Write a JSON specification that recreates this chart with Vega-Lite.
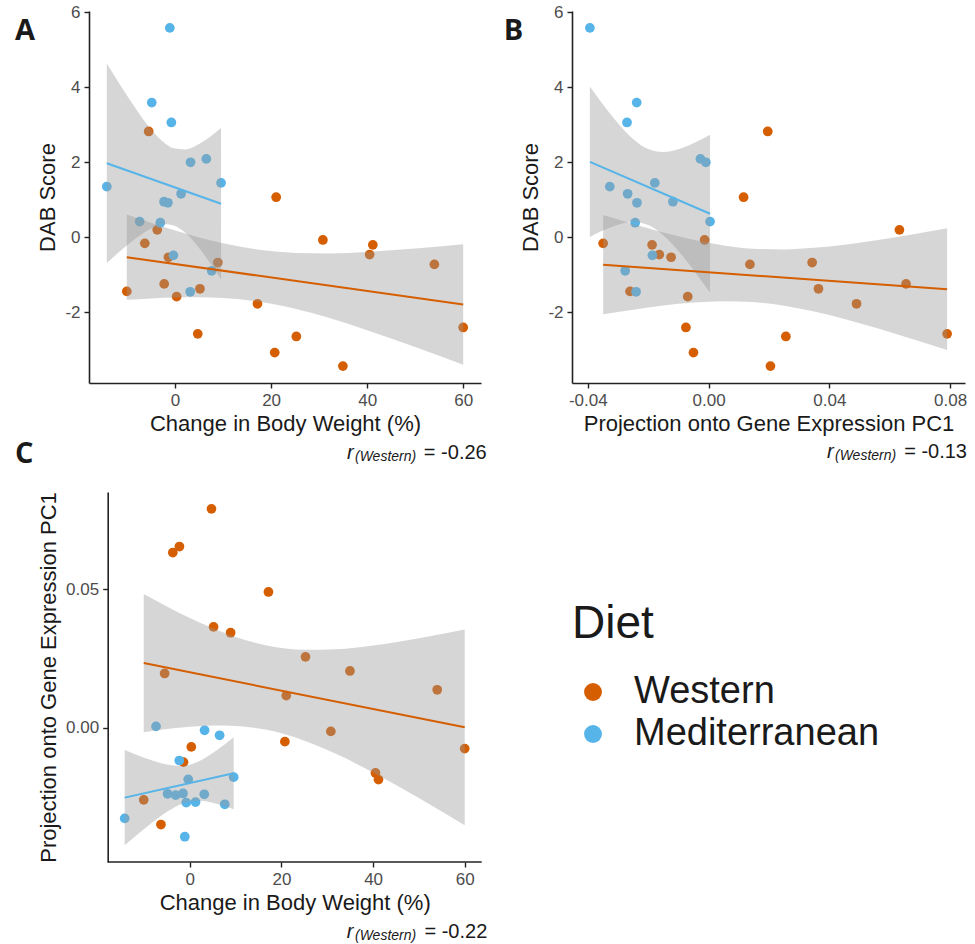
{
  "$schema": "https://vega.github.io/schema/vega-lite/v6.json",
  "background": "white",
  "padding": {"left": 15, "top": 3, "right": 5, "bottom": 0},
  "datasets": {
    "subjects": [
      {"diet": "Western", "weight": -5.5, "dab": 2.82, "pc1": 0.0196},
      {"diet": "Western", "weight": 21.05, "dab": 1.07, "pc1": 0.0116},
      {"diet": "Western", "weight": -3.72, "dab": 0.2, "pc1": 0.0632},
      {"diet": "Western", "weight": -6.31, "dab": -0.16, "pc1": -0.0349},
      {"diet": "Western", "weight": 30.78, "dab": -0.07, "pc1": -0.0013},
      {"diet": "Western", "weight": 41.18, "dab": -0.2, "pc1": -0.0187},
      {"diet": "Western", "weight": 40.52, "dab": -0.46, "pc1": -0.0163},
      {"diet": "Western", "weight": 54.0, "dab": -0.72, "pc1": 0.0137},
      {"diet": "Western", "weight": -1.38, "dab": -0.53, "pc1": -0.0124},
      {"diet": "Western", "weight": 8.9, "dab": -0.67, "pc1": 0.0343},
      {"diet": "Western", "weight": -10.06, "dab": -1.44, "pc1": -0.026},
      {"diet": "Western", "weight": -2.27, "dab": -1.24, "pc1": 0.0654},
      {"diet": "Western", "weight": 5.18, "dab": -1.37, "pc1": 0.0364},
      {"diet": "Western", "weight": 0.32, "dab": -1.58, "pc1": -0.0069},
      {"diet": "Western", "weight": 17.16, "dab": -1.77, "pc1": 0.049},
      {"diet": "Western", "weight": 4.72, "dab": -2.57, "pc1": 0.079},
      {"diet": "Western", "weight": 25.25, "dab": -2.64, "pc1": 0.0256},
      {"diet": "Western", "weight": 20.75, "dab": -3.07, "pc1": -0.005},
      {"diet": "Western", "weight": 34.95, "dab": -3.43, "pc1": 0.0205},
      {"diet": "Western", "weight": 60.0, "dab": -2.4, "pc1": -0.0075},
      {"diet": "Mediterranean", "weight": -1.1, "dab": 5.58, "pc1": -0.0393},
      {"diet": "Mediterranean", "weight": -4.86, "dab": 3.59, "pc1": -0.0238},
      {"diet": "Mediterranean", "weight": -0.78, "dab": 3.06, "pc1": -0.027},
      {"diet": "Mediterranean", "weight": 6.5, "dab": 2.09, "pc1": -0.0027},
      {"diet": "Mediterranean", "weight": 3.22, "dab": 2.0, "pc1": -0.0009},
      {"diet": "Mediterranean", "weight": 9.57, "dab": 1.45, "pc1": -0.0178},
      {"diet": "Mediterranean", "weight": -14.22, "dab": 1.35, "pc1": -0.0327},
      {"diet": "Mediterranean", "weight": 1.25, "dab": 1.16, "pc1": -0.0268},
      {"diet": "Mediterranean", "weight": -2.3, "dab": 0.95, "pc1": -0.0118},
      {"diet": "Mediterranean", "weight": -1.49, "dab": 0.92, "pc1": -0.0237},
      {"diet": "Mediterranean", "weight": -7.38, "dab": 0.42, "pc1": 0.0005},
      {"diet": "Mediterranean", "weight": -3.08, "dab": 0.39, "pc1": -0.0243},
      {"diet": "Mediterranean", "weight": -0.35, "dab": -0.48, "pc1": -0.0186},
      {"diet": "Mediterranean", "weight": 7.62, "dab": -0.89, "pc1": -0.0276},
      {"diet": "Mediterranean", "weight": 3.15, "dab": -1.45, "pc1": -0.024}
    ],
    "captions": [
      {"panel": "A", "tag": "A", "label": "= -0.26"},
      {"panel": "B", "tag": "B", "label": "= -0.13"},
      {"panel": "C", "tag": "C", "label": "= -0.22"}
    ],
    "bands": [
      {"panel": "A", "diet": "Western", "x": -10.06, "lo": -1.664, "hi": 0.61},
      {"panel": "A", "diet": "Western", "x": -5, "lo": -1.626, "hi": 0.389},
      {"panel": "A", "diet": "Western", "x": 0, "lo": -1.601, "hi": 0.184},
      {"panel": "A", "diet": "Western", "x": 5, "lo": -1.596, "hi": -0.002},
      {"panel": "A", "diet": "Western", "x": 10, "lo": -1.618, "hi": -0.16},
      {"panel": "A", "diet": "Western", "x": 16.8, "lo": -1.704, "hi": -0.32},
      {"panel": "A", "diet": "Western", "x": 25, "lo": -1.904, "hi": -0.415},
      {"panel": "A", "diet": "Western", "x": 32, "lo": -2.145, "hi": -0.427},
      {"panel": "A", "diet": "Western", "x": 40, "lo": -2.472, "hi": -0.389},
      {"panel": "A", "diet": "Western", "x": 50, "lo": -2.922, "hi": -0.3},
      {"panel": "A", "diet": "Western", "x": 60, "lo": -3.397, "hi": -0.185},
      {"panel": "A", "diet": "Mediterranean", "x": -14.22, "lo": -0.686, "hi": 4.632},
      {"panel": "A", "diet": "Mediterranean", "x": -11, "lo": -0.32, "hi": 3.975},
      {"panel": "A", "diet": "Mediterranean", "x": -8, "lo": -0.011, "hi": 3.395},
      {"panel": "A", "diet": "Mediterranean", "x": -5, "lo": 0.235, "hi": 2.877},
      {"panel": "A", "diet": "Mediterranean", "x": -2, "lo": 0.35, "hi": 2.492},
      {"panel": "A", "diet": "Mediterranean", "x": -0.28, "lo": 0.315, "hi": 2.371},
      {"panel": "A", "diet": "Mediterranean", "x": 2, "lo": 0.136, "hi": 2.343},
      {"panel": "A", "diet": "Mediterranean", "x": 5, "lo": -0.282, "hi": 2.49},
      {"panel": "A", "diet": "Mediterranean", "x": 7.5, "lo": -0.721, "hi": 2.703},
      {"panel": "A", "diet": "Mediterranean", "x": 9.57, "lo": -1.118, "hi": 2.913},
      {"panel": "B", "diet": "Western", "x": -0.0349, "lo": -2.051, "hi": 0.593},
      {"panel": "B", "diet": "Western", "x": -0.025, "lo": -1.926, "hi": 0.354},
      {"panel": "B", "diet": "Western", "x": -0.015, "lo": -1.817, "hi": 0.131},
      {"panel": "B", "diet": "Western", "x": -0.005, "lo": -1.736, "hi": -0.064},
      {"panel": "B", "diet": "Western", "x": 0.005, "lo": -1.7, "hi": -0.215},
      {"panel": "B", "diet": "Western", "x": 0.0145, "lo": -1.722, "hi": -0.301},
      {"panel": "B", "diet": "Western", "x": 0.025, "lo": -1.821, "hi": -0.322},
      {"panel": "B", "diet": "Western", "x": 0.035, "lo": -1.978, "hi": -0.28},
      {"panel": "B", "diet": "Western", "x": 0.045, "lo": -2.177, "hi": -0.196},
      {"panel": "B", "diet": "Western", "x": 0.055, "lo": -2.403, "hi": -0.085},
      {"panel": "B", "diet": "Western", "x": 0.065, "lo": -2.645, "hi": 0.044},
      {"panel": "B", "diet": "Western", "x": 0.079, "lo": -3.002, "hi": 0.241},
      {"panel": "B", "diet": "Mediterranean", "x": -0.0393, "lo": 0.008, "hi": 4.018},
      {"panel": "B", "diet": "Mediterranean", "x": -0.035, "lo": 0.181, "hi": 3.547},
      {"panel": "B", "diet": "Mediterranean", "x": -0.03, "lo": 0.338, "hi": 3.041},
      {"panel": "B", "diet": "Mediterranean", "x": -0.025, "lo": 0.409, "hi": 2.623},
      {"panel": "B", "diet": "Mediterranean", "x": -0.02, "lo": 0.33, "hi": 2.356},
      {"panel": "B", "diet": "Mediterranean", "x": -0.015, "lo": 0.059, "hi": 2.277},
      {"panel": "B", "diet": "Mediterranean", "x": -0.01, "lo": -0.361, "hi": 2.35},
      {"panel": "B", "diet": "Mediterranean", "x": -0.005, "lo": -0.868, "hi": 2.508},
      {"panel": "B", "diet": "Mediterranean", "x": 0.0005, "lo": -1.475, "hi": 2.733},
      {"panel": "C", "diet": "Western", "x": -10.06, "lo": -0.00161, "hi": 0.0483},
      {"panel": "C", "diet": "Western", "x": -5, "lo": -0.00045, "hi": 0.04378},
      {"panel": "C", "diet": "Western", "x": 0, "lo": 0.00041, "hi": 0.03962},
      {"panel": "C", "diet": "Western", "x": 5, "lo": 0.00085, "hi": 0.03588},
      {"panel": "C", "diet": "Western", "x": 10, "lo": 0.00069, "hi": 0.03272},
      {"panel": "C", "diet": "Western", "x": 16.8, "lo": -0.00075, "hi": 0.02968},
      {"panel": "C", "diet": "Western", "x": 25, "lo": -0.00463, "hi": 0.02812},
      {"panel": "C", "diet": "Western", "x": 32, "lo": -0.00947, "hi": 0.02833},
      {"panel": "C", "diet": "Western", "x": 40, "lo": -0.01612, "hi": 0.02969},
      {"panel": "C", "diet": "Western", "x": 50, "lo": -0.02535, "hi": 0.03231},
      {"panel": "C", "diet": "Western", "x": 60, "lo": -0.03513, "hi": 0.03547},
      {"panel": "C", "diet": "Mediterranean", "x": -14.22, "lo": -0.04235, "hi": -0.00804},
      {"panel": "C", "diet": "Mediterranean", "x": -11, "lo": -0.03786, "hi": -0.01015},
      {"panel": "C", "diet": "Mediterranean", "x": -8, "lo": -0.03388, "hi": -0.01191},
      {"panel": "C", "diet": "Mediterranean", "x": -5, "lo": -0.03031, "hi": -0.01326},
      {"panel": "C", "diet": "Mediterranean", "x": -2, "lo": -0.02758, "hi": -0.01376},
      {"panel": "C", "diet": "Mediterranean", "x": -0.28, "lo": -0.02666, "hi": -0.0134},
      {"panel": "C", "diet": "Mediterranean", "x": 2, "lo": -0.02631, "hi": -0.01207},
      {"panel": "C", "diet": "Mediterranean", "x": 5, "lo": -0.02702, "hi": -0.00913},
      {"panel": "C", "diet": "Mediterranean", "x": 7.5, "lo": -0.0282, "hi": -0.0061},
      {"panel": "C", "diet": "Mediterranean", "x": 9.57, "lo": -0.02938, "hi": -0.00338}
    ]
  },
  "columns": 2,
  "spacing": {"row": -24, "column": 15},
  "concat": [
    {
      "width": 392,
      "height": 372,
      "layer": [
        {
          "data": {"name": "subjects"},
          "mark": {"type": "circle", "size": 95, "opacity": 1},
          "encoding": {
            "x": {"field": "weight", "type": "quantitative", "title": "Change in Body Weight (%)", "scale": {"domain": [-17.93, 63.71], "nice": false, "zero": false}, "axis": {"values": [0, 20, 40, 60]}},
            "y": {"field": "dab", "type": "quantitative", "title": "DAB Score", "scale": {"domain": [-3.88, 6.03], "nice": false, "zero": false}, "axis": {"values": [-2, 0, 2, 4, 6], "labelExpr": "replace(datum.label, '−', '-')"}},
            "color": {
              "field": "diet", "type": "nominal",
              "scale": {"domain": ["Western", "Mediterranean"], "range": ["#D55E00", "#56B4E9"]},
              "legend": {"orient": "none", "legendX": 483, "legendY": 591, "title": "Diet", "titleFont": "Liberation Sans", "titleFontSize": 46, "titleFontWeight": "normal", "titleColor": "#1A1A1A", "titlePadding": 25, "labelFont": "Liberation Sans", "labelFontSize": 38, "labelColor": "#1A1A1A", "labelLimit": 500, "symbolType": "circle", "symbolSize": 320, "symbolStrokeWidth": 0, "symbolOffset": 2, "labelOffset": 22, "rowPadding": 4, "padding": 0}
            }
          }
        },
        {
          "data": {"name": "bands"},
          "transform": [{"filter": "datum.panel === 'A'"}],
          "mark": {"type": "area", "color": "#999999", "opacity": 0.4, "interpolate": "monotone"},
          "encoding": {
            "x": {"field": "x", "type": "quantitative", "title": "Change in Body Weight (%)", "scale": {"domain": [-17.93, 63.71], "nice": false, "zero": false}},
            "y": {"field": "hi", "type": "quantitative", "title": "DAB Score", "scale": {"domain": [-3.88, 6.03], "nice": false, "zero": false}},
            "y2": {"field": "lo"},
            "detail": {"field": "diet"}
          }
        },
        {
          "data": {"name": "subjects"},
          "transform": [{"regression": "dab", "on": "weight", "groupby": ["diet"]}],
          "mark": {"type": "line", "strokeWidth": 2},
          "encoding": {
            "x": {"field": "weight", "type": "quantitative", "title": "Change in Body Weight (%)", "scale": {"domain": [-17.93, 63.71], "nice": false, "zero": false}},
            "y": {"field": "dab", "type": "quantitative", "title": "DAB Score", "scale": {"domain": [-3.88, 6.03], "nice": false, "zero": false}},
            "color": {"field": "diet", "type": "nominal"}
          }
        },
        {
          "data": {"name": "captions"},
          "transform": [{"filter": "datum.panel === 'A'"}],
          "layer": [
            {"mark": {"type": "text", "font": "Open Sans", "fontSize": 29, "fontWeight": "bold", "align": "left", "baseline": "alphabetic", "dx": -74, "color": "#1A1A1A"},
             "encoding": {"text": {"field": "tag"}, "x": {"datum": -17.93, "type": "quantitative"}, "y": {"datum": 5.25, "type": "quantitative"}}},
            {"mark": {"type": "text", "text": "r", "font": "Liberation Sans", "fontStyle": "italic", "fontSize": 20, "align": "left", "baseline": "alphabetic", "dx": -134, "color": "#1A1A1A"},
             "encoding": {"x": {"datum": 63.71, "type": "quantitative"}, "y": {"datum": -5.9, "type": "quantitative"}}},
            {"mark": {"type": "text", "text": "(Western)", "font": "Liberation Sans", "fontStyle": "italic", "fontSize": 14, "align": "left", "baseline": "alphabetic", "dx": -126, "dy": 2, "color": "#1A1A1A"},
             "encoding": {"x": {"datum": 63.71, "type": "quantitative"}, "y": {"datum": -5.9, "type": "quantitative"}}},
            {"mark": {"type": "text", "font": "Liberation Sans", "fontSize": 20, "align": "right", "baseline": "alphabetic", "dx": 5.7, "color": "#1A1A1A"},
             "encoding": {"text": {"field": "label"}, "x": {"datum": 63.71, "type": "quantitative"}, "y": {"datum": -5.9, "type": "quantitative"}}}
          ]
        }
      ]
    },
    {
      "width": 393,
      "height": 372,
      "layer": [
        {
          "data": {"name": "subjects"},
          "mark": {"type": "circle", "size": 95, "opacity": 1},
          "encoding": {
            "x": {"field": "pc1", "type": "quantitative", "title": "Projection onto Gene Expression PC1", "scale": {"domain": [-0.04522, 0.08492], "nice": false, "zero": false}, "axis": {"values": [-0.04, 0, 0.04, 0.08], "format": ".2f", "labelExpr": "replace(datum.label, '−', '-')"}},
            "y": {"field": "dab", "type": "quantitative", "title": "DAB Score", "scale": {"domain": [-3.88, 6.03], "nice": false, "zero": false}, "axis": {"values": [-2, 0, 2, 4, 6], "labelExpr": "replace(datum.label, '−', '-')"}},
            "color": {"field": "diet", "type": "nominal"}
          }
        },
        {
          "data": {"name": "bands"},
          "transform": [{"filter": "datum.panel === 'B'"}],
          "mark": {"type": "area", "color": "#999999", "opacity": 0.4, "interpolate": "monotone"},
          "encoding": {
            "x": {"field": "x", "type": "quantitative", "title": "Projection onto Gene Expression PC1", "scale": {"domain": [-0.04522, 0.08492], "nice": false, "zero": false}},
            "y": {"field": "hi", "type": "quantitative", "title": "DAB Score", "scale": {"domain": [-3.88, 6.03], "nice": false, "zero": false}},
            "y2": {"field": "lo"},
            "detail": {"field": "diet"}
          }
        },
        {
          "data": {"name": "subjects"},
          "transform": [{"regression": "dab", "on": "pc1", "groupby": ["diet"]}],
          "mark": {"type": "line", "strokeWidth": 2},
          "encoding": {
            "x": {"field": "pc1", "type": "quantitative", "title": "Projection onto Gene Expression PC1", "scale": {"domain": [-0.04522, 0.08492], "nice": false, "zero": false}},
            "y": {"field": "dab", "type": "quantitative", "title": "DAB Score", "scale": {"domain": [-3.88, 6.03], "nice": false, "zero": false}},
            "color": {"field": "diet", "type": "nominal"}
          }
        },
        {
          "data": {"name": "captions"},
          "transform": [{"filter": "datum.panel === 'B'"}],
          "layer": [
            {"mark": {"type": "text", "font": "Open Sans", "fontSize": 29, "fontWeight": "bold", "align": "left", "baseline": "alphabetic", "dx": -68.3, "color": "#1A1A1A"},
             "encoding": {"text": {"field": "tag"}, "x": {"datum": -0.04522, "type": "quantitative"}, "y": {"datum": 5.25, "type": "quantitative"}}},
            {"mark": {"type": "text", "text": "r", "font": "Liberation Sans", "fontStyle": "italic", "fontSize": 20, "align": "left", "baseline": "alphabetic", "dx": -138, "color": "#1A1A1A"},
             "encoding": {"x": {"datum": 0.08492, "type": "quantitative"}, "y": {"datum": -5.87, "type": "quantitative"}}},
            {"mark": {"type": "text", "text": "(Western)", "font": "Liberation Sans", "fontStyle": "italic", "fontSize": 14, "align": "left", "baseline": "alphabetic", "dx": -130, "dy": 2, "color": "#1A1A1A"},
             "encoding": {"x": {"datum": 0.08492, "type": "quantitative"}, "y": {"datum": -5.87, "type": "quantitative"}}},
            {"mark": {"type": "text", "font": "Liberation Sans", "fontSize": 20, "align": "right", "baseline": "alphabetic", "dx": 2, "color": "#1A1A1A"},
             "encoding": {"text": {"field": "label"}, "x": {"datum": 0.08492, "type": "quantitative"}, "y": {"datum": -5.87, "type": "quantitative"}}}
          ]
        }
      ]
    },
    {
      "width": 392.7,
      "height": 370,
      "layer": [
        {
          "data": {"name": "subjects"},
          "mark": {"type": "circle", "size": 95, "opacity": 1},
          "encoding": {
            "x": {"field": "weight", "type": "quantitative", "title": "Change in Body Weight (%)", "scale": {"domain": [-22.01, 63.71], "nice": false, "zero": false}, "axis": {"values": [0, 20, 40, 60], "domain": false, "titleX": 205.7}},
            "y": {"field": "pc1", "type": "quantitative", "title": "Projection onto Gene Expression PC1", "scale": {"domain": [-0.04842, 0.08507], "nice": false, "zero": false}, "axis": {"values": [0, 0.05], "format": ".2f", "offset": -18.7}},
            "color": {"field": "diet", "type": "nominal"}
          }
        },
        {
          "data": {"name": "bands"},
          "transform": [{"filter": "datum.panel === 'C'"}],
          "mark": {"type": "area", "color": "#999999", "opacity": 0.4, "interpolate": "monotone"},
          "encoding": {
            "x": {"field": "x", "type": "quantitative", "title": "Change in Body Weight (%)", "scale": {"domain": [-22.01, 63.71], "nice": false, "zero": false}},
            "y": {"field": "hi", "type": "quantitative", "title": "Projection onto Gene Expression PC1", "scale": {"domain": [-0.04842, 0.08507], "nice": false, "zero": false}},
            "y2": {"field": "lo"},
            "detail": {"field": "diet"}
          }
        },
        {
          "data": {"name": "subjects"},
          "transform": [{"regression": "pc1", "on": "weight", "groupby": ["diet"]}],
          "mark": {"type": "line", "strokeWidth": 2},
          "encoding": {
            "x": {"field": "weight", "type": "quantitative", "title": "Change in Body Weight (%)", "scale": {"domain": [-22.01, 63.71], "nice": false, "zero": false}},
            "y": {"field": "pc1", "type": "quantitative", "title": "Projection onto Gene Expression PC1", "scale": {"domain": [-0.04842, 0.08507], "nice": false, "zero": false}},
            "color": {"field": "diet", "type": "nominal"}
          }
        },
        {
          "data": {"name": "captions"},
          "transform": [{"filter": "datum.panel === 'C'"}],
          "layer": [
            {"mark": {"type": "rule", "color": "#222222", "strokeWidth": 1.6},
             "encoding": {"x": {"datum": -17.93, "type": "quantitative"}, "x2": {"datum": 63.71}, "y": {"datum": -0.04842, "type": "quantitative"}}},
            {"mark": {"type": "text", "font": "Open Sans", "fontSize": 29, "fontWeight": "bold", "align": "left", "baseline": "alphabetic", "dx": -74, "color": "#1A1A1A"},
             "encoding": {"text": {"field": "tag"}, "x": {"datum": -22.01, "type": "quantitative"}, "y": {"datum": 0.09542, "type": "quantitative"}}},
            {"mark": {"type": "text", "text": "r", "font": "Liberation Sans", "fontStyle": "italic", "fontSize": 20, "align": "left", "baseline": "alphabetic", "dx": -135, "color": "#1A1A1A"},
             "encoding": {"x": {"datum": 63.71, "type": "quantitative"}, "y": {"datum": -0.07585, "type": "quantitative"}}},
            {"mark": {"type": "text", "text": "(Western)", "font": "Liberation Sans", "fontStyle": "italic", "fontSize": 14, "align": "left", "baseline": "alphabetic", "dx": -126.7, "dy": 2, "color": "#1A1A1A"},
             "encoding": {"x": {"datum": 63.71, "type": "quantitative"}, "y": {"datum": -0.07585, "type": "quantitative"}}},
            {"mark": {"type": "text", "font": "Liberation Sans", "fontSize": 20, "align": "right", "baseline": "alphabetic", "dx": 5.6, "color": "#1A1A1A"},
             "encoding": {"text": {"field": "label"}, "x": {"datum": 63.71, "type": "quantitative"}, "y": {"datum": -0.07585, "type": "quantitative"}}}
          ]
        }
      ]
    }
  ],
  "config": {
    "view": {"stroke": null},
    "font": "Liberation Sans",
    "axis": {
      "grid": false,
      "labelFont": "Liberation Sans",
      "labelFontSize": 17,
      "labelColor": "#4D4D4D",
      "labelPadding": 4,
      "titleFont": "Liberation Sans",
      "titleFontSize": 22,
      "titleFontWeight": "normal",
      "titleColor": "#1A1A1A",
      "titlePadding": 5,
      "domainColor": "#222222",
      "domainWidth": 1.6,
      "tickColor": "#222222",
      "tickWidth": 1.4,
      "tickSize": 5
    }
  }
}
